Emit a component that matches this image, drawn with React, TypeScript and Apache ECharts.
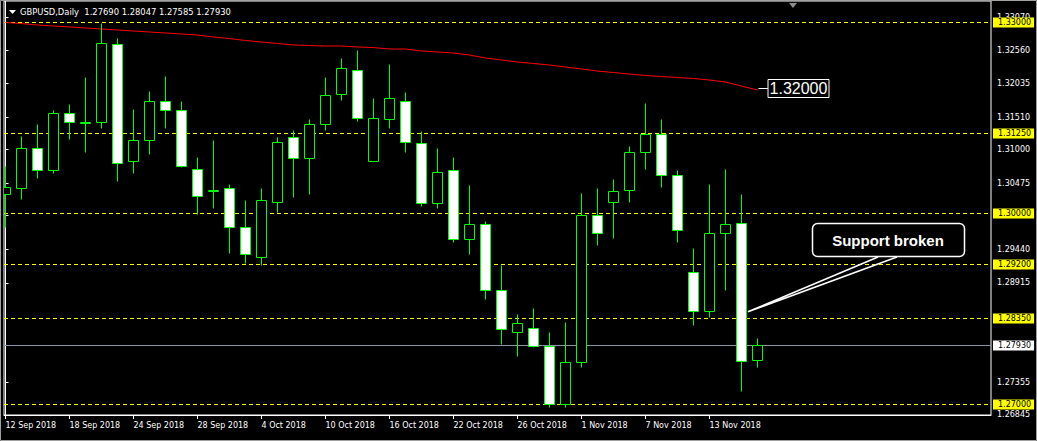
import React, { useEffect, useRef } from "react";
import * as echarts from "echarts";

// ---- data ----
const dates = [
  "12 Sep 2018", "13 Sep 2018", "14 Sep 2018", "17 Sep 2018", "18 Sep 2018", "19 Sep 2018", "20 Sep 2018", "21 Sep 2018",
  "24 Sep 2018", "25 Sep 2018", "26 Sep 2018", "27 Sep 2018", "28 Sep 2018", "1 Oct 2018", "2 Oct 2018", "3 Oct 2018",
  "4 Oct 2018", "5 Oct 2018", "8 Oct 2018", "9 Oct 2018", "10 Oct 2018", "11 Oct 2018", "12 Oct 2018", "15 Oct 2018",
  "16 Oct 2018", "17 Oct 2018", "18 Oct 2018", "19 Oct 2018", "22 Oct 2018", "23 Oct 2018", "24 Oct 2018", "25 Oct 2018",
  "26 Oct 2018", "29 Oct 2018", "30 Oct 2018", "31 Oct 2018", "1 Nov 2018", "2 Nov 2018", "5 Nov 2018", "6 Nov 2018",
  "7 Nov 2018", "8 Nov 2018", "9 Nov 2018", "12 Nov 2018", "13 Nov 2018", "14 Nov 2018", "15 Nov 2018", "16 Nov 2018",
];

const opens = [
  1.3029, 1.30399, 1.31026, 1.30666, 1.31559, 1.31418, 1.31418, 1.3264, 1.30807, 1.31151, 1.31747, 1.31621,
  1.30697, 1.30368, 1.30384, 1.29773, 1.29318, 1.3018, 1.31198, 1.30869, 1.31402, 1.31872, 1.32248, 1.30807,
  1.3148, 1.31762, 1.31104, 1.30149, 1.30681, 1.29585, 1.2982, 1.28786, 1.28143, 1.28206, 1.27924, 1.27015,
  1.27658, 1.29961, 1.3018, 1.30368, 1.30948, 1.3123, 1.30603, 1.29083, 1.28472, 1.29694, 1.29851, 1.2769,
];
const closes = [
  1.30415, 1.31026, 1.30681, 1.31559, 1.31433, 1.31418, 1.32671, 1.30791, 1.31151, 1.31747, 1.31621, 1.30744,
  1.30274, 1.30368, 1.29773, 1.2935, 1.30196, 1.3112, 1.30869, 1.31402, 1.31856, 1.32279, 1.31496, 1.31496,
  1.31809, 1.3112, 1.30149, 1.3065, 1.29585, 1.2982, 1.28786, 1.28175, 1.28284, 1.27924, 1.27015, 1.27658,
  1.29961, 1.29679, 1.30352, 1.30963, 1.3123, 1.30603, 1.29726, 1.28472, 1.29679, 1.29835, 1.27689, 1.2793,
];
const lows = [
  1.29788, 1.30227, 1.30556, 1.30619, 1.31167, 1.30948, 1.31324, 1.30509, 1.30619, 1.30932, 1.31339, 1.30728,
  1.29992, 1.30086, 1.29381, 1.29224, 1.29193, 1.30008, 1.30258, 1.30305, 1.31308, 1.31778, 1.31449, 1.30807,
  1.31339, 1.30963, 1.30117, 1.30086, 1.29538, 1.2935, 1.2866, 1.27955, 1.27752, 1.27893, 1.26953, 1.26968,
  1.27595, 1.29491, 1.29616, 1.3018, 1.30697, 1.30415, 1.29553, 1.28253, 1.28363, 1.28786, 1.27219, 1.27585,
];
const highs = [
  1.30744, 1.31214, 1.31402, 1.31621, 1.317, 1.32123, 1.32969, 1.32734, 1.31637, 1.31919, 1.32154, 1.31762,
  1.30885, 1.31136, 1.30462, 1.30211, 1.30399, 1.31198, 1.31308, 1.3148, 1.32138, 1.32436, 1.32546, 1.31794,
  1.32342, 1.31903, 1.31292, 1.31026, 1.30885, 1.30431, 1.29882, 1.29193, 1.2841, 1.28519, 1.28128, 1.283,
  1.30321, 1.30399, 1.3054, 1.31042, 1.31731, 1.3148, 1.30681, 1.29459, 1.30462, 1.30697, 1.3029, 1.28047,
];
const maValues = [
  1.32992, 1.32976, 1.32953, 1.32937, 1.32922, 1.32906, 1.3289, 1.32875, 1.32859, 1.32843,
  1.32828, 1.32812, 1.32796, 1.32765, 1.32741, 1.3271, 1.32687, 1.32663, 1.3264, 1.32632,
  1.32624, 1.32624, 1.32608, 1.326, 1.32577, 1.32577, 1.32546, 1.3253, 1.32514, 1.32483,
  1.32436, 1.32405, 1.32373, 1.3235, 1.32326, 1.32295, 1.32264, 1.32232, 1.32208, 1.32185,
  1.32162, 1.32146, 1.3213, 1.32115, 1.32091, 1.3206, 1.31997, 1.31935,
];

const levelLines = [1.33, 1.3125, 1.3, 1.292, 1.2835, 1.27];
const currentPrice = 1.2793;
const yTickValues = [1.3307, 1.3256, 1.32035, 1.3151, 1.31, 1.30475, 1.29965, 1.2944, 1.28915, 1.27355, 1.26845];
const xTickIndexes = [0, 4, 8, 12, 16, 20, 24, 28, 32, 36, 40, 44];

const headerText = "GBPUSD,Daily \u00a01.27690 1.28047 1.27585 1.27930";
const maLabelText = "1.32000";
const calloutText = "Support broken";
const calloutAnchor = [46.4, 1.2846];

const FONT = "DejaVu Sans";

export default function App() {
  const ref = useRef<HTMLDivElement>(null);

  useEffect(() => {
    if (!ref.current) return;
    const chart = echarts.init(ref.current, undefined, { renderer: "svg" });

    const candleData = dates.map((d, i) => [i, opens[i], closes[i], lows[i], highs[i]]);
    const maData = maValues.map((v, i) => [i, v]);
    const levelData = [
      ...levelLines.map((v) => [0, v, 0]),
      [0, currentPrice, 1],
    ];
    const snap = (v: number) => Math.round(v - 0.5) + 0.5;

    chart.setOption({
      animation: false,
      backgroundColor: "#000",
      grid: {
        left: 4,
        right: 46,
        top: 1,
        bottom: 26,
        show: true,
        borderColor: "#ffffff",
        borderWidth: 1,
        backgroundColor: "transparent",
      },
      xAxis: {
        type: "value",
        min: -0.09375,
        max: 61.59375,
        splitLine: { show: false },
        axisLine: { show: true, lineStyle: { color: "#fff", width: 1 } },
        axisTick: { show: true, length: 4, lineStyle: { color: "#fff" }, customValues: xTickIndexes },
        axisLabel: {
          color: "#fff",
          fontSize: 8,
          fontFamily: FONT,
          align: "left",
          margin: 6,
          customValues: xTickIndexes,
          formatter: (v: number) => dates[Math.round(v)] || "",
        },
      },
      yAxis: {
        type: "value",
        position: "right",
        min: 1.268433,
        max: 1.33329,
        splitLine: { show: false },
        axisLine: { show: true, lineStyle: { color: "#fff", width: 1 } },
        axisTick: { show: true, length: 3, lineStyle: { color: "#fff" }, customValues: yTickValues },
        axisLabel: {
          color: "#fff",
          fontSize: 8,
          fontFamily: FONT,
          margin: 6,
          customValues: yTickValues,
          formatter: (v: number) => v.toFixed(5),
        },
      },
      series: [
        {
          type: "custom",
          clip: false,
          z: 1,
          silent: true,
          data: levelData,
          encode: { x: 0, y: 1 },
          renderItem: (params: any, api: any) => {
            const v = api.value(1);
            const isCurrent = api.value(2) === 1;
            const cs = params.coordSys;
            const y = snap(api.coord([0, v])[1]);
            const right = cs.x + cs.width;
            return {
              type: "group",
              children: [
                {
                  type: "line",
                  shape: { x1: cs.x, y1: y, x2: right, y2: y },
                  style: {
                    stroke: isCurrent ? "#8796a8" : "#ffff00",
                    lineWidth: 1,
                    lineDash: isCurrent ? null : [4, 3],
                  },
                },
                {
                  type: "text",
                  z2: 50,
                  x: right + 2,
                  y: y,
                  style: {
                    text: v.toFixed(5),
                    fill: "#000000",
                    backgroundColor: isCurrent ? "#ffffff" : "#ffff00",
                    padding: [1, 3, 1, 5],
                    font: `8px "${FONT}"`,
                    verticalAlign: "middle",
                    align: "left",
                  },
                },
              ],
            };
          },
        },
        {
          type: "line",
          data: maData,
          showSymbol: false,
          symbol: "none",
          clip: true,
          lineStyle: { color: "#ff0000", width: 1 },
          z: 2,
        },
        {
          type: "custom",
          clip: true,
          z: 3,
          data: candleData,
          encode: { x: 0, y: [1, 2, 3, 4] },
          renderItem: (params: any, api: any) => {
            const i = api.value(0);
            const o = api.value(1);
            const c = api.value(2);
            const l = api.value(3);
            const h = api.value(4);
            const x = snap(api.coord([i, o])[0]);
            const yO = api.coord([i, o])[1];
            const yC = api.coord([i, c])[1];
            const yL = snap(api.coord([i, l])[1]);
            const yH = snap(api.coord([i, h])[1]);
            let top = snap(Math.min(yO, yC));
            let bot = snap(Math.max(yO, yC));
            const doji = Math.abs(c - o) < 1e-7;
            if (bot - top < 1) bot = top + 1;
            const bull = c > o;
            return {
              type: "group",
              children: [
                {
                  type: "line",
                  shape: { x1: x, y1: yH, x2: x, y2: yL },
                  style: { stroke: "#00ff00", lineWidth: 1 },
                },
                {
                  type: "rect",
                  shape: { x: x - 5, y: top, width: 10, height: bot - top },
                  style: {
                    fill: bull || doji ? "#000000" : "#ffffff",
                    stroke: "#00ff00",
                    lineWidth: 1,
                  },
                },
              ],
            };
          },
        },
      ],
    });

    // annotations positioned through the chart's own scales
    const end = chart.convertToPixel({ xAxisIndex: 0, yAxisIndex: 0 }, [maData.length - 1, maValues[maValues.length - 1]]) as number[];
    const tip = chart.convertToPixel({ xAxisIndex: 0, yAxisIndex: 0 }, calloutAnchor) as number[];
    const ex = end[0];
    const ey = Math.round(end[1]) - 2;
    const bx = Math.round(tip[0]) + 64;
    const by = Math.round(tip[1]) - 89;

    chart.setOption({
      graphic: [
        {
          type: "rect",
          silent: true,
          shape: { x: 0.5, y: 0.5, width: 1036, height: 440 },
          style: { fill: "none", stroke: "#a0a0a0", lineWidth: 1 },
          z: 1,
        },
        {
          type: "polygon",
          silent: true,
          shape: { points: [[9, 10], [16, 10], [12.5, 14]] },
          style: { fill: "#ffffff" },
          z: 20,
        },
        {
          type: "text",
          silent: true,
          x: 20,
          y: 12,
          style: {
            text: headerText,
            fill: "#ffffff",
            font: `8.4px "${FONT}"`,
            verticalAlign: "middle",
          },
          z: 20,
        },
        {
          type: "polygon",
          silent: true,
          shape: { points: [[789, 3], [797, 3], [793, 8]] },
          style: { fill: "#8c8c8c" },
          z: 20,
        },
        {
          type: "line",
          silent: true,
          shape: { x1: ex + 1, y1: ey + 0.5, x2: ex + 11, y2: ey + 0.5 },
          style: { stroke: "#ffffff", lineWidth: 1 },
          z: 20,
        },
        {
          type: "rect",
          silent: true,
          shape: { x: ex + 10.5, y: ey - 8.5, width: 61, height: 18 },
          style: { fill: "#000000", stroke: "#ffffff", lineWidth: 1 },
          z: 20,
        },
        {
          type: "text",
          silent: true,
          x: ex + 41,
          y: ey + 0.5,
          style: {
            text: maLabelText,
            fill: "#ffffff",
            font: '16px "Liberation Sans"',
            align: "center",
            verticalAlign: "middle",
          },
          z: 21,
        },
        {
          type: "rect",
          silent: true,
          shape: { x: bx + 0.5, y: by + 0.5, width: 152, height: 33, r: 5 },
          style: { fill: "#000000", stroke: "#ffffff", lineWidth: 1.5 },
          z: 20,
        },
        {
          type: "polyline",
          silent: true,
          shape: {
            points: [
              [bx + 66, by + 34],
              [tip[0], tip[1]],
              [bx + 85, by + 34],
            ],
          },
          style: { fill: "none", stroke: "#ffffff", lineWidth: 1.5 },
          z: 21,
        },
        {
          type: "text",
          silent: true,
          x: bx + 76,
          y: by + 17,
          style: {
            text: calloutText,
            fill: "#ffffff",
            font: 'bold 15px "Liberation Sans"',
            align: "center",
            verticalAlign: "middle",
          },
          z: 21,
        },
      ],
    });

    return () => chart.dispose();
  }, []);

  return (
    <div
      ref={ref}
      style={{ position: "absolute", left: 0, top: 0, width: 1037, height: 441, background: "#000" }}
    />
  );
}
